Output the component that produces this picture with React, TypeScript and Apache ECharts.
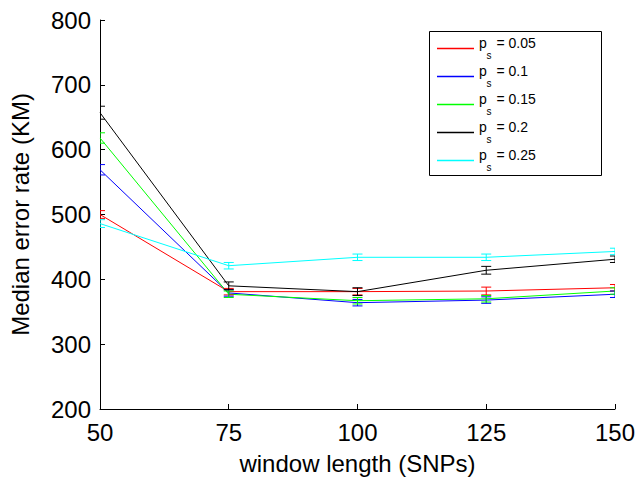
import React, { useEffect, useRef } from "react";
import * as echarts from "echarts";

// Window lengths (SNPs) on the x axis
const windowLengths = [50, 75, 100, 125, 150];

// Switch probabilities, one line per value
const psLabels = ["0.05", "0.1", "0.15", "0.2", "0.25"];
const lineColors = ["#ff0000", "#0000ff", "#00ff00", "#000000", "#00ffff"];

// Median error rate (KM) for each p_s
const medianPs005 = [500, 381, 381, 382, 387];
const medianPs010 = [569, 379, 364, 368, 377];
const medianPs015 = [618, 377, 367, 370, 382];
const medianPs020 = [657, 390, 381, 414, 431];
const medianPs025 = [486, 421, 434, 434, 443];

// Half-widths of the error bars
const errPs005 = [6, 5, 5, 6, 5];
const errPs010 = [8, 5, 5, 5, 5];
const errPs015 = [8, 5, 5, 5, 5];
const errPs020 = [10, 6, 6, 6, 5];
const errPs025 = [6, 5, 5, 5, 5];

const medians = [medianPs005, medianPs010, medianPs015, medianPs020, medianPs025];
const errors = [errPs005, errPs010, errPs015, errPs020, errPs025];

const yTicks = [200, 300, 400, 500, 600, 700, 800];
const xTicks = [50, 75, 100, 125, 150];

const FONT = "'Liberation Sans', Arial, Helvetica, sans-serif";

// Legend box with p_s labels (subscript drawn as its own smaller text)
function legendGraphics() {
  const boxX = 429.5;
  const boxY = 31.5;
  const firstRow = 47.5;
  const rowStep = 28.1;
  const items: any[] = [
    {
      type: "rect",
      shape: { x: boxX, y: boxY, width: 172, height: 144 },
      style: { fill: "#fff", stroke: "#000", lineWidth: 1 },
      z: 10,
    },
  ];
  psLabels.forEach((ps, i) => {
    const y = Math.round(firstRow + rowStep * i) + 0.5;
    items.push(
      {
        type: "line",
        shape: { x1: 437, y1: y, x2: 474, y2: y },
        style: { stroke: lineColors[i], lineWidth: 1.5 },
        z: 11,
      },
      {
        type: "text",
        x: 479,
        y: y - 6,
        style: { text: "p", font: `14px ${FONT}`, fill: "#000", textVerticalAlign: "middle" },
        z: 11,
      },
      {
        type: "text",
        x: 486.5,
        y: y + 6.5,
        style: { text: "s", font: `10px ${FONT}`, fill: "#000", textVerticalAlign: "middle" },
        z: 11,
      },
      {
        type: "text",
        x: 492.5,
        y: y - 6,
        style: { text: ` = ${ps}`, font: `14px ${FONT}`, fill: "#000", textVerticalAlign: "middle" },
        z: 11,
      }
    );
  });
  return items;
}

export default function App() {
  const ref = useRef<HTMLDivElement>(null);

  useEffect(() => {
    if (!ref.current) return;
    const chart = echarts.init(ref.current, undefined, { renderer: "svg" });

    const lineSeries = psLabels.map((ps, i) => ({
      name: ps,
      type: "line",
      data: windowLengths.map((w, j) => [w, medians[i][j]]),
      showSymbol: false,
      symbol: "none",
      lineStyle: { color: lineColors[i], width: 1 },
      itemStyle: { color: lineColors[i] },
      z: 2,
    }));

    const errorSeries = psLabels.map((ps, i) => ({
      name: ps + " err",
      type: "custom",
      clip: true,
      data: windowLengths.map((w, j) => [
        w,
        medians[i][j] - errors[i][j],
        medians[i][j] + errors[i][j],
      ]),
      renderItem: (_params: any, api: any) => {
        const x = api.value(0);
        const lo = api.coord([x, api.value(1)]);
        const hi = api.coord([x, api.value(2)]);
        const hw = 5;
        const style = { stroke: lineColors[i], lineWidth: 1 };
        return {
          type: "group",
          children: [
            { type: "line", shape: { x1: lo[0], y1: lo[1], x2: hi[0], y2: hi[1] }, style },
            { type: "line", shape: { x1: lo[0] - hw, y1: lo[1], x2: lo[0] + hw, y2: lo[1] }, style },
            { type: "line", shape: { x1: hi[0] - hw, y1: hi[1], x2: hi[0] + hw, y2: hi[1] }, style },
          ],
        };
      },
      z: 3,
    }));

    chart.setOption({
      animation: false,
      grid: { left: 100, right: 23, top: 20, bottom: 68 },
      xAxis: {
        type: "value",
        min: xTicks[0],
        max: xTicks[xTicks.length - 1],
        interval: 25,
        name: "window length (SNPs)",
        nameLocation: "middle",
        nameGap: 42,
        nameTextStyle: { fontFamily: FONT, fontSize: 24, color: "#000" },
        axisLine: { lineStyle: { color: "#000", width: 1 } },
        axisTick: { inside: true, length: 5, lineStyle: { color: "#000" } },
        axisLabel: { fontFamily: FONT, fontSize: 24, color: "#000", margin: 11 },
        splitLine: { show: false },
      },
      yAxis: {
        type: "value",
        min: yTicks[0],
        max: yTicks[yTicks.length - 1],
        interval: 100,
        name: "Median error rate (KM)",
        nameLocation: "middle",
        nameGap: 68,
        nameTextStyle: { fontFamily: FONT, fontSize: 24, color: "#000" },
        axisLine: { show: true, lineStyle: { color: "#000", width: 1 } },
        axisTick: { show: true, inside: true, length: 5, lineStyle: { color: "#000" } },
        axisLabel: { fontFamily: FONT, fontSize: 24, color: "#000", margin: 9 },
        splitLine: { show: false },
      },
      graphic: legendGraphics(),
      series: [...lineSeries, ...errorSeries],
    });

    return () => chart.dispose();
  }, []);

  return <div ref={ref} style={{ width: 638, height: 480, position: "absolute", left: 0, top: 0 }} />;
}
